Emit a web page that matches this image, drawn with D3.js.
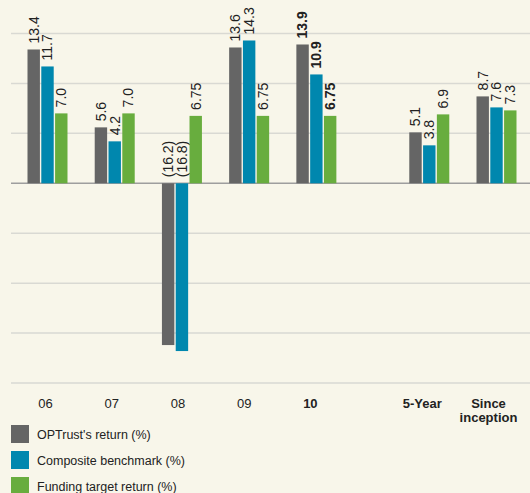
<!DOCTYPE html>
<html>
<head>
<meta charset="utf-8">
<script src="https://cdn.jsdelivr.net/npm/d3@7"></script>
<style>
	body { margin: 0; background: #f8f6ea; }
	svg { display: block; }
	text { font-family: "Liberation Sans", Arial, sans-serif; }
</style>
</head>
<body>
<script>
	// Categories and series
	var groups = ["06", "07", "08", "09", "10", "5-Year", "Since inception"];
	var groupSlot = [0, 1, 2, 3, 4, 5.68, 6.68];
	var boldGroups = ["10", "5-Year", "Since inception"];
	var series = ["OPTrust's return (%)", "Composite benchmark (%)", "Funding target return (%)"];
	var colors = ["#656565", "#0087ae", "#68ad3e"];

	var optrust = [13.4, 5.6, -16.2, 13.6, 13.9, 5.1, 8.7];
	var benchmark = [11.7, 4.2, -16.8, 14.3, 10.9, 3.8, 7.6];
	var target = [7.0, 7.0, 6.75, 6.75, 6.75, 6.9, 7.3];
	var labels = [
		["13.4", "5.6", "(16.2)", "13.6", "13.9", "5.1", "8.7"],
		["11.7", "4.2", "(16.8)", "14.3", "10.9", "3.8", "7.6"],
		["7.0", "7.0", "6.75", "6.75", "6.75", "6.9", "7.3"]
	];
	var yTicks = [15, 10, 5, 0, -5, -10, -15, -20];

	var values = [optrust, benchmark, target];

	var width = 530, height = 493;

	var svg = d3.select("body")
		.append("svg")
		.attr("width", width)
		.attr("height", height);

	// y scale: 10px per percent
	var yScale = d3.scaleLinear()
		.domain([-20, 15])
		.range([383, 33.5]);

	// group centres along the x axis
	var xScale = d3.scaleLinear()
		.domain([0, 6.68])
		.range([47.5, 496.5]);

	// bars inside a group
	var xInner = d3.scaleBand()
		.domain(d3.range(series.length))
		.range([-20, 20])
		.paddingInner(0.1);

	// gridlines
	svg.append("g")
		.selectAll("line")
		.data(yTicks)
		.enter()
		.append("line")
		.attr("x1", 11)
		.attr("x2", width)
		.attr("y1", function(d) { return yScale(d); })
		.attr("y2", function(d) { return yScale(d); })
		.style("stroke", function(d) { return d == 0 ? "#9e9e9e" : "#d9d9d3"; })
		.style("stroke-width", 1.5);

	// bars and labels per series
	series.forEach(function(s, si) {
		var data = values[si].map(function(v, gi) { return {v: v, g: gi}; });
		var barX = function(d) { return xScale(groupSlot[d.g]) + xInner(si); };

		svg.append("g")
			.selectAll("rect")
			.data(data)
			.enter()
			.append("rect")
			.attr("x", barX)
			.attr("width", xInner.bandwidth())
			.attr("y", function(d) { return yScale(Math.max(0, d.v)); })
			.attr("height", function(d) { return Math.abs(yScale(d.v) - yScale(0)); })
			.style("fill", colors[si]);

		svg.append("g")
			.selectAll("text")
			.data(data)
			.enter()
			.append("text")
			.attr("transform", function(d) {
				var x = barX(d) + xInner.bandwidth() / 2;
				var y = yScale(Math.max(0, d.v)) - 6;
				return "translate(" + x + "," + y + ") rotate(-90)";
			})
			.attr("dy", "0.35em")
			.style("font-size", "14px")
			.style("font-weight", function(d) { return groups[d.g] == "10" ? "bold" : "normal"; })
			.style("fill", "#222")
			.text(function(d) { return labels[si][d.g]; });
	});

	// category labels
	var catLabels = svg.append("g")
		.selectAll("text")
		.data(groups)
		.enter()
		.append("text")
		.attr("x", function(d, i) { return xScale(groupSlot[i]) - 2 - i; })
		.attr("y", 408)
		.attr("text-anchor", "middle")
		.style("font-size", "13px")
		.style("font-weight", function(d) { return boldGroups.indexOf(d) >= 0 ? "bold" : "normal"; })
		.style("fill", "#222");

	catLabels.each(function(d) {
		var words = d == "Since inception" ? ["Since", "inception"] : [d];
		var t = d3.select(this);
		words.forEach(function(w, wi) {
			t.append("tspan")
				.attr("x", t.attr("x"))
				.attr("dy", wi == 0 ? 0 : 14)
				.text(w);
		});
	});

	// legend
	var legend = svg.append("g")
		.selectAll("g")
		.data(series)
		.enter()
		.append("g")
		.attr("transform", function(d, i) { return "translate(11," + (425 + i * 26) + ")"; });

	legend.append("rect")
		.attr("width", 18)
		.attr("height", 18)
		.style("fill", function(d, i) { return colors[i]; });

	legend.append("text")
		.attr("x", 26)
		.attr("y", 14)
		.style("font-size", "12.5px")
		.style("fill", "#222")
		.text(function(d) { return d; });
</script>
</body>
</html>
